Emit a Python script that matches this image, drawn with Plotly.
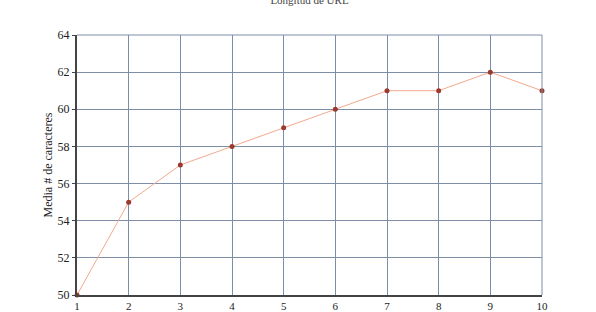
import plotly.graph_objects as go

x_vals = [1, 2, 3, 4, 5, 6, 7, 8, 9, 10]
y_vals = [50, 55, 57, 58, 59, 60, 61, 61, 62, 61]
title_text = "Longitud de URL"
y_title = "Media # de caracteres"

fig = go.Figure()
fig.add_trace(go.Scatter(
    x=x_vals, y=y_vals, mode="lines+markers",
    line=dict(color="#f2a98e", width=1),
    marker=dict(color="#9b3a2c", size=5, symbol="circle"),
    cliponaxis=False,
))

grid = "#7d8ea6"
font = dict(family="Liberation Serif, Times New Roman, serif", color="#222222", size=12)
fig.update_layout(
    width=596, height=312,
    margin=dict(l=77, r=54, t=35, b=17),
    paper_bgcolor="white", plot_bgcolor="white",
    showlegend=False,
    font=font,
    title=dict(text=title_text, x=0.5, xref="paper", xanchor="center",
               y=1.0, yref="container", yanchor="middle",
               font=dict(family="Liberation Serif, serif", size=11, color="#444444")),
)
fig.update_xaxes(
    range=[1, 10], tickvals=x_vals, showgrid=True, gridcolor=grid, gridwidth=1,
    showline=True, linecolor="#444444", linewidth=2, ticks="",
    zeroline=False, automargin=False, ticklabelstandoff=0,
    tickfont=dict(size=11),
)
fig.update_yaxes(
    range=[50, 64], dtick=2, showgrid=True, gridcolor=grid, gridwidth=1,
    showline=True, linecolor="#444444", linewidth=2, ticks="outside", ticklen=3,
    tickcolor="#444444", zeroline=False, automargin=False,
    title=dict(text=y_title, standoff=2, font=dict(family="Liberation Serif, serif", size=12)),
)
# top and right frame lines in grid colour
fig.add_shape(type="line", xref="x domain", yref="y domain", x0=0, x1=1, y0=1, y1=1,
              line=dict(color=grid, width=1))
fig.add_shape(type="line", xref="x domain", yref="y domain", x0=1, x1=1, y0=0, y1=1,
              line=dict(color=grid, width=1))

fig.write_html("out.html")
